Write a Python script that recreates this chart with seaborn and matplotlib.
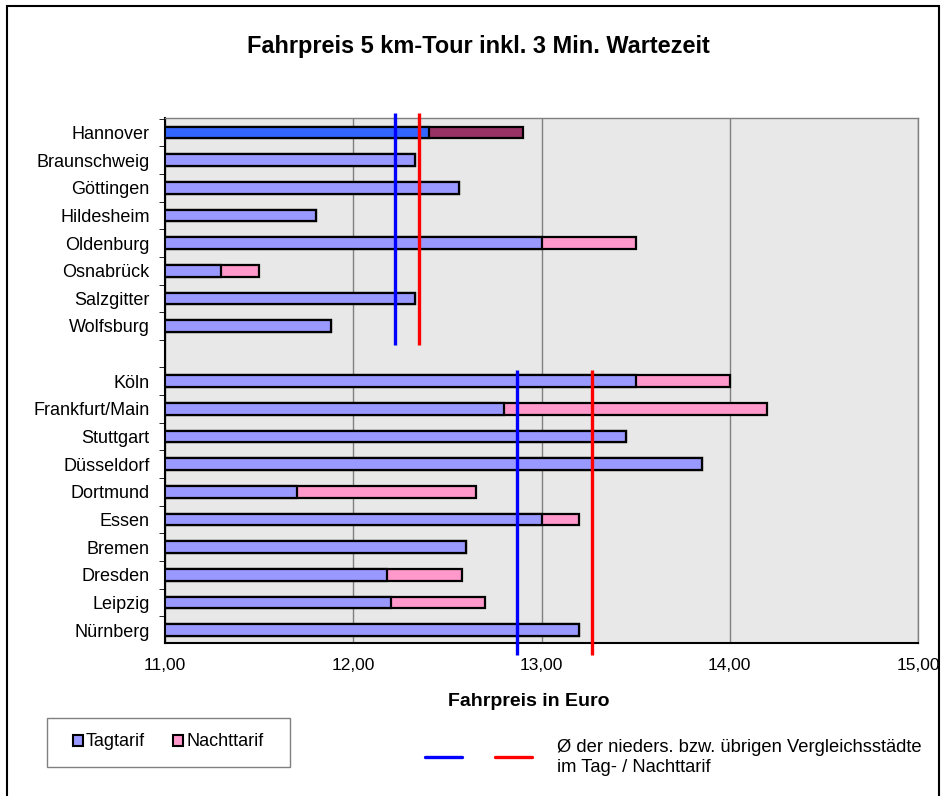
import pandas as pd
import matplotlib.pyplot as plt
import seaborn as sns
from matplotlib.patches import Patch, Rectangle
from matplotlib.lines import Line2D
from matplotlib.ticker import FixedLocator, FuncFormatter

# values (Euro)
cities_nds = ["Hannover", "Braunschweig", "Göttingen", "Hildesheim",
              "Oldenburg", "Osnabrück", "Salzgitter", "Wolfsburg"]
day_nds = [12.40, 12.33, 12.56, 11.80, 13.00, 11.30, 12.33, 11.88]
night_nds = [12.90, 12.33, 12.56, 11.80, 13.50, 11.50, 12.33, 11.88]

cities_other = ["Köln", "Frankfurt/Main", "Stuttgart", "Düsseldorf", "Dortmund",
                "Essen", "Bremen", "Dresden", "Leipzig", "Nürnberg"]
day_other = [13.50, 12.80, 13.45, 13.85, 11.70, 13.00, 12.60, 12.18, 12.20, 13.20]
night_other = [14.00, 14.20, 13.45, 13.85, 12.65, 13.20, 12.60, 12.58, 12.70, 13.20]

# averages (nieders. / uebrige Staedte)
avg_day = [12.22, 12.87]
avg_night = [12.35, 13.27]

x_ticks = [11, 12, 13, 14, 15]

DAY, NIGHT = "#9999FF", "#FF99CC"
DAY_HL, NIGHT_HL = "#3366FF", "#993366"

# build table, blank row as spacer between the two groups
gap = " "
order = cities_nds + [gap] + cities_other
df = pd.DataFrame({
    "city": order,
    "day": day_nds + [0] + day_other,
    "night": night_nds + [0] + night_other,
})
day_pal = {c: DAY for c in order}
night_pal = {c: NIGHT for c in order}
day_pal["Hannover"] = DAY_HL
night_pal["Hannover"] = NIGHT_HL

sns.set_style("white")
plt.rcParams["font.family"] = ["Liberation Sans", "DejaVu Sans"]
plt.rcParams["text.color"] = "black"
plt.rcParams["xtick.color"] = "black"
plt.rcParams["ytick.color"] = "black"

fig = plt.figure(figsize=(9.47, 7.96), dpi=100)
ax = fig.add_axes([165 / 947, 1 - 643 / 796, (918 - 165) / 947, (643 - 118) / 796])
ax.set_facecolor("#E8E8E8")

bar_kw = dict(y="city", order=order, hue="city", orient="h", width=0.42,
              edgecolor="black", linewidth=1.6, saturation=1, errorbar=None,
              legend=False, ax=ax)
sns.barplot(data=df, x="night", palette=night_pal, **bar_kw)
sns.barplot(data=df, x="day", palette=day_pal, **bar_kw)

ax.set_xlim(11, 15)
ax.set_ylim(18.47, -0.525)
ax.set_xlabel("")
ax.set_ylabel("")

ax.set_xticks(x_ticks)
ax.xaxis.set_major_formatter(FuncFormatter(lambda v, p: f"{v:.2f}".replace(".", ",")))
ax.xaxis.grid(True, color="#808080", lw=1)
ax.set_axisbelow(True)
ax.tick_params(axis="x", length=3, pad=8, labelsize=12.5, color="black")
ax.tick_params(axis="y", which="major", length=0, pad=11, labelsize=13)
ax.yaxis.set_minor_locator(FixedLocator([k + 0.5 for k in range(-1, len(order))]))
ax.tick_params(axis="y", which="minor", length=4, color="black", left=True)

for side in ["left", "bottom"]:
    ax.spines[side].set_color("black")
    ax.spines[side].set_linewidth(1.5)
for side in ["top", "right"]:
    ax.spines[side].set_color("#808080")
    ax.spines[side].set_linewidth(1)

# average lines per group
spans = [(-0.7, len(cities_nds) - 1 + 0.7),
         (len(cities_nds) + 1 - 0.4, len(order) - 1 + 0.9)]
for (y0, y1), vd, vn in zip(spans, avg_day, avg_night):
    ax.plot([vd, vd], [y0, y1], color="#0000FF", lw=2.4, clip_on=False, solid_capstyle="butt", zorder=5)
    ax.plot([vn, vn], [y0, y1], color="#FF0000", lw=2.4, clip_on=False, solid_capstyle="butt", zorder=5)

fig.text(478 / 947, 1 - 47 / 796, "Fahrpreis 5 km-Tour inkl. 3 Min. Wartezeit",
         ha="center", va="center", fontsize=16.9, fontweight="bold")
fig.text(529 / 947, 1 - 702 / 796, "Fahrpreis in Euro",
         ha="center", va="center", fontsize=14, fontweight="bold")

# legend for bars
fig.add_artist(Rectangle((47 / 947, 1 - 767 / 796), 243 / 947, 49 / 796,
                         transform=fig.transFigure, fill=False, edgecolor="#808080", lw=1))
handles = [Patch(facecolor=DAY, edgecolor="black", lw=1.5, label="Tagtarif"),
           Patch(facecolor=NIGHT, edgecolor="black", lw=1.5, label="Nachttarif")]
fig.legend(handles=handles, loc="center", bbox_to_anchor=(168 / 947, 1 - 742 / 796),
           ncol=2, frameon=False, handlelength=0.55, handleheight=0.55,
           handletextpad=0.15, columnspacing=1.6, fontsize=13)

# legend for average lines
fig.add_artist(Line2D([425 / 947, 462 / 947], [1 - 757 / 796] * 2,
                      transform=fig.transFigure, color="#0000FF", lw=2.4))
fig.add_artist(Line2D([495 / 947, 532 / 947], [1 - 757 / 796] * 2,
                      transform=fig.transFigure, color="#FF0000", lw=2.4))
fig.text(557 / 947, 1 - 748 / 796, "Ø der nieders. bzw. übrigen Vergleichsstädte",
         ha="left", va="center", fontsize=13.2)
fig.text(557 / 947, 1 - 767 / 796, "im Tag- / Nachttarif",
         ha="left", va="center", fontsize=13.2)

# outer chart border
fig.add_artist(Rectangle((7 / 947, -0.02), (939 - 7) / 947, 1.02 - 6 / 796,
                         transform=fig.transFigure, fill=False, edgecolor="black", lw=1.5))

fig.savefig("out.png", dpi=100)
